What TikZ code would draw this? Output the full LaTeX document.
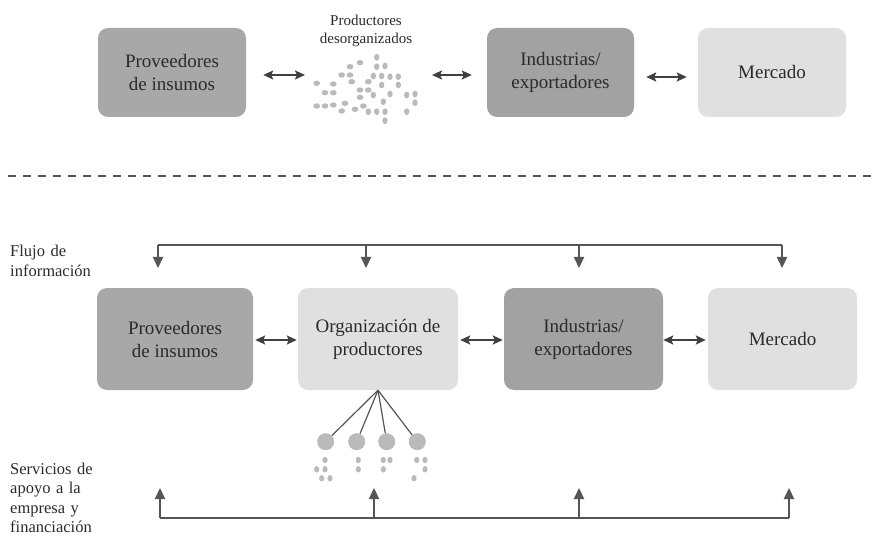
\documentclass[tikz,border=0pt]{standalone}
\usepackage{fontspec}
\setmainfont{LiberationSerif}[Extension=.ttf, UprightFont=*-Regular, BoldFont=*-Bold]
\usetikzlibrary{arrows.meta,calc}
\definecolor{boxmid}{HTML}{A8A8A8}
\definecolor{boxdark}{HTML}{A2A2A2}
\definecolor{boxlight}{HTML}{E0E0E0}
\definecolor{txt}{HTML}{2A2A2A}
\definecolor{arrc}{HTML}{404040}
\definecolor{linec}{HTML}{555555}
\definecolor{dotc}{HTML}{BABABA}
\begin{document}
\begin{tikzpicture}[x=1pt,y=-1pt,
  box/.style={rounded corners=10pt, inner sep=0pt, align=center, text=txt,
    font=\fontsize{19}{23}\selectfont},
  lbl/.style={anchor=base west, inner sep=0pt, align=left, text width=120pt, text=txt,
    font=\fontsize{16.5}{19.5}\selectfont},
  dbl/.style={draw=arrc, line width=2pt,
    {Stealth[length=10pt,width=9pt,inset=2pt]}-{Stealth[length=10pt,width=9pt,inset=2pt]}},
  flow/.style={draw=linec, line width=2.2pt},
  arr/.style={flow, -{Triangle[length=11pt,width=10pt]}},
  fan/.style={draw=linec, line width=1.2pt},
  bigdot/.style={circle, fill=dotc, minimum size=17pt, inner sep=0pt}
]
\useasboundingbox (0,0) rectangle (875,537);

% ---------- top row ----------
\node[box, fill=boxmid, minimum width=148pt, minimum height=89pt] (P1) at (172,72.5) {Proveedores\\de insumos};
\node[box, fill=boxdark, minimum width=147pt, minimum height=89pt] (I1) at (560.5,72.5) {Industrias/\\exportadores};
\node[box, fill=boxlight, minimum width=148pt, minimum height=89pt] (M1) at (772,72.5) {Mercado};

\node[inner sep=0pt, align=center, text=txt, font=\fontsize{15}{18}\selectfont] (desorg) at (366,31) {Productores\\desorganizados};

\coordinate (cloudW) at (314,75);
\coordinate (cloudE) at (419,75);
\foreach \p in {(376.7,57.3),(376.7,66.7),(385,66),(373.3,76),(381.7,76),(390,76.7),(398.3,76.7),(381.7,85),(398.3,85),(373.3,95),(390,94),(406.7,95),(415,94),(415,102.7),(383.3,101.7),(368.3,111.7),(376.7,111.7),(385,111.7),(406.7,111.7),(385,120.7)}
  \fill[dotc] \p ellipse[x radius=2.7pt, y radius=3.4pt];
\foreach \p in {(360,62.7),(350,66.7),(341.7,75),(350,75),(368.3,81.7),(316.7,83.3),(333.3,84),(351.7,81.7),(325,92.7),(333.3,92.7),(360,90),(368.3,90),(360,97.3),(316.7,106),(325,106),(333.3,105),(345,103.3),(341.7,111),(355,109.3),(363.3,106)}
  \fill[dotc] \p ellipse[x radius=3.4pt, y radius=2.7pt];

\draw[dbl, shorten <=17pt, shorten >=9pt] (P1.east |- cloudW) -- (cloudW);
\draw[dbl, shorten <=13pt, shorten >=15pt] (cloudE) -- (I1.west |- cloudE);
\draw[dbl, shorten <=12pt, shorten >=11pt] ([yshift=-4.5pt]I1.east) -- ([yshift=-4.5pt]M1.west);

% ---------- separator ----------
\coordinate (sepL) at (8,176);
\coordinate (sepR) at (872,176);
\draw[linec, line width=2pt, dash pattern=on 8pt off 7pt] (sepL) -- (sepR);

% ---------- bottom row ----------
\node[box, fill=boxmid, minimum width=156pt, minimum height=102pt] (P2) at (175,339) {Proveedores\\de insumos};
\node[box, fill=boxlight, minimum width=160pt, minimum height=102pt] (O2) at (378,339) {Organización de\\productores};
\node[box, fill=boxdark, minimum width=159pt, minimum height=102pt] (I2) at (583.5,339) {Industrias/\\exportadores};
\node[box, fill=boxlight, minimum width=149pt, minimum height=102pt] (M2) at (782.5,339) {Mercado};

\draw[dbl, shorten <=2pt, shorten >=1pt] ([yshift=-1pt]P2.east) -- ([yshift=-1pt]O2.west);
\draw[dbl, shorten <=2pt, shorten >=1pt] ([yshift=-1pt]O2.east) -- ([yshift=-1pt]I2.west);
\draw[dbl, shorten <=0pt, shorten >=2pt] ([yshift=-1pt]I2.east) -- ([yshift=-1pt]M2.west);

% ---------- information flow ----------
\node[lbl] (flujo) at (10,257) {Flujo de\\información};
\coordinate (f1) at (158,245);
\coordinate (f2) at (366,245);
\coordinate (f3) at (579,245);
\coordinate (f4) at (782,245);
\draw[flow] (f1) -- (f4);
\foreach \c in {f1,f2,f3,f4} \draw[arr] (\c) -- ++(0,23);

% ---------- organisation fan ----------
\node[bigdot] (c1) at (325.7,441.7) {};
\node[bigdot] (c2) at (356.7,441.7) {};
\node[bigdot] (c3) at (386.7,441.7) {};
\node[bigdot] (c4) at (417.3,441.7) {};
\foreach \c in {c1,c2,c3,c4} \draw[fan] (O2.south) -- (\c);
\foreach \p in {(325,460),(316.7,469.3),(325,469.3),(321.7,478.3),(330,478.3),(358.3,460),(358.3,469.3),(383.3,460),(390,460),(383.3,469.3),(416.7,460),(425,460),(425,469.3),(414,478.3)}
  \fill[dotc] \p ellipse[x radius=2.6pt, y radius=3.2pt];

% ---------- support services ----------
\node[lbl] (servicios) at (10,474) {Servicios de\\apoyo a la\\empresa y\\financiación};
\coordinate (s1) at (160,518);
\coordinate (s2) at (374,518);
\coordinate (s3) at (579,518);
\coordinate (s4) at (789,518);
\draw[flow] (s1) -- (s4);
\foreach \c in {s1,s2,s3,s4} \draw[arr] (\c) -- ++(0,-30);
\end{tikzpicture}
\end{document}
